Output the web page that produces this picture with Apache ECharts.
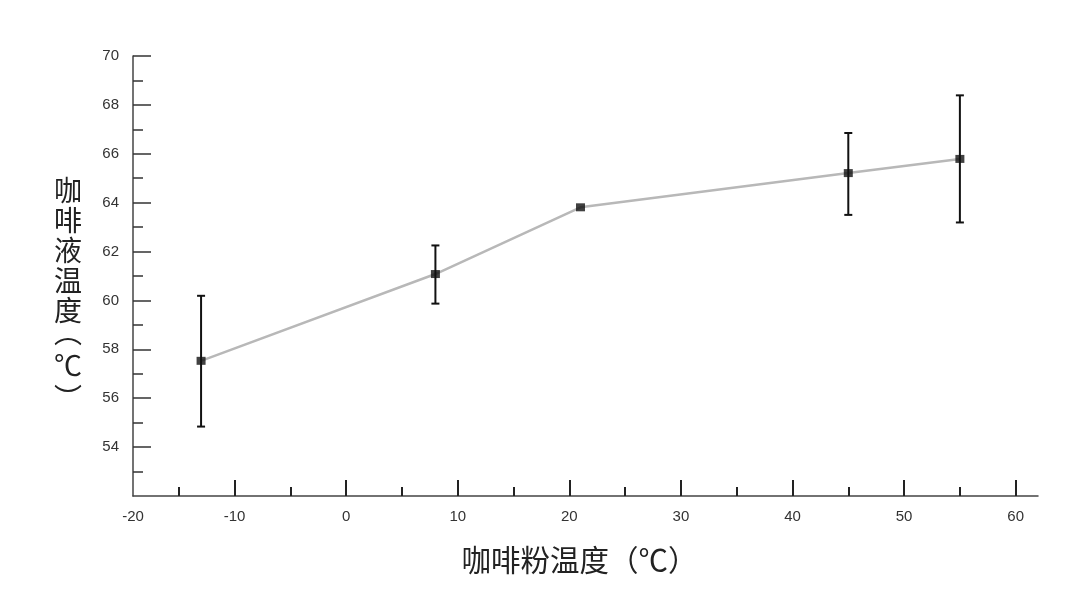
<!DOCTYPE html>
<html><head><meta charset="utf-8">
<script src="https://cdn.jsdelivr.net/npm/echarts@6/dist/echarts.min.js"></script>
<style>html,body{margin:0;padding:0;background:#fff}#c{width:1080px;height:601px}</style>
</head><body><div id="c"></div>
<script>
const xValues = [-13, 8, 21, 45, 55];
const yMeans = [57.53, 61.08, 63.81, 65.21, 65.79];
const yLow = [54.84, 59.87, 63.81, 63.50, 63.19];
const yHigh = [60.19, 62.25, 63.81, 66.85, 68.39];
const xMajorTicks = [-10, 0, 10, 20, 30, 40, 50, 60];
const xMinorTicks = [-15, -5, 5, 15, 25, 35, 45, 55];
const xLabelValues = [-19.1, -10, 0, 10, 20, 30, 40, 50, 60];
const xLabelTexts = ['-20', '-10', '0', '10', '20', '30', '40', '50', '60'];
const yMajorTicks = [54, 56, 58, 60, 62, 64, 66, 68, 70];
const yMinorTicks = [53, 55, 57, 59, 61, 63, 65, 67, 69];
const xName = '咖啡粉温度（℃）';
const yName = '咖\n啡\n液\n温\n度\n{s| }';
const yUnitOpen = '︵', yUnit = '℃', yUnitClose = '︶';

const X_MIN = -19.1, X_MAX = 62, Y_MIN = 52, Y_MAX = 70;
const font = 'Liberation Sans, Arial, sans-serif';
const cjk = '"Noto Sans CJK SC", sans-serif';

const chart = echarts.init(document.getElementById('c'));
const errData = xValues.map((x, i) => [x, yLow[i], yHigh[i]]);
const lineData = xValues.map((x, i) => [x, yMeans[i]]);
const unitStyle = { fontFamily: cjk, fontSize: 28, fill: '#222', align: 'center', verticalAlign: 'middle' };

chart.setOption({
  animation: false,
  backgroundColor: '#fff',
  grid: { left: 133, top: 56, width: 905, height: 440 },
  graphic: [
    { type: 'text', x: 68, y: 332, style: Object.assign({ text: yUnitOpen }, unitStyle) },
    { type: 'text', x: 68, y: 365, style: Object.assign({ text: yUnit }, unitStyle) },
    { type: 'text', x: 68, y: 398, style: Object.assign({ text: yUnitClose }, unitStyle) }
  ],
  xAxis: [{
    type: 'value', min: X_MIN, max: X_MAX, position: 'bottom',
    splitLine: { show: false },
    axisLine: { show: true, onZero: false, lineStyle: { color: '#444', width: 1.5 } },
    axisTick: { show: true, inside: true, length: 16, customValues: xMajorTicks, lineStyle: { color: '#222', width: 2 } },
    axisLabel: {
      customValues: xLabelValues, margin: 13, color: '#333', fontSize: 15, fontFamily: font,
      formatter: v => xLabelTexts[xLabelValues.indexOf(v)]
    },
    name: xName, nameLocation: 'middle', nameGap: 49,
    nameTextStyle: { fontFamily: cjk, fontSize: 29.5, color: '#222', padding: [0, 12, 0, 0] }
  }, {
    type: 'value', min: X_MIN, max: X_MAX, position: 'bottom',
    splitLine: { show: false },
    axisLine: { show: false, onZero: false },
    axisTick: { show: true, inside: true, length: 9, customValues: xMinorTicks, lineStyle: { color: '#222', width: 2 } },
    axisLabel: { show: false }
  }],
  yAxis: [{
    type: 'value', min: Y_MIN, max: Y_MAX, position: 'left',
    splitLine: { show: false },
    axisLine: { show: true, onZero: false, lineStyle: { color: '#444', width: 1.5 } },
    axisTick: { show: true, inside: true, length: 18, customValues: yMajorTicks, lineStyle: { color: '#333', width: 1.5 } },
    axisLabel: { customValues: yMajorTicks, margin: 14, color: '#333', fontSize: 15, fontFamily: font },
    name: yName, nameLocation: 'middle', nameRotate: 0, nameGap: 65,
    nameTextStyle: {
      fontFamily: cjk, fontSize: 28, lineHeight: 30, color: '#222', align: 'center', verticalAlign: 'middle',
      rich: { s: { fontSize: 10, lineHeight: 52 } }
    }
  }, {
    type: 'value', min: Y_MIN, max: Y_MAX, position: 'left',
    splitLine: { show: false },
    axisLine: { show: false, onZero: false },
    axisTick: { show: true, inside: true, length: 10, customValues: yMinorTicks, lineStyle: { color: '#333', width: 1.5 } },
    axisLabel: { show: false }
  }],
  series: [{
    type: 'line', data: lineData, xAxisIndex: 0, yAxisIndex: 0,
    lineStyle: { color: '#b8b8b8', width: 2.5 },
    symbol: 'none', z: 2
  }, {
    type: 'custom', data: errData, xAxisIndex: 0, yAxisIndex: 0, z: 3,
    renderItem: (params, api) => {
      const x = api.value(0);
      const lo = api.coord([x, api.value(1)]);
      const hi = api.coord([x, api.value(2)]);
      if (Math.abs(hi[1] - lo[1]) < 1) return { type: 'group', children: [] };
      const style = { stroke: '#111', lineWidth: 2 };
      const cw = 4;
      return { type: 'group', children: [
        { type: 'line', shape: { x1: lo[0], y1: lo[1], x2: hi[0], y2: hi[1] }, style },
        { type: 'line', shape: { x1: lo[0] - cw, y1: lo[1], x2: lo[0] + cw, y2: lo[1] }, style },
        { type: 'line', shape: { x1: hi[0] - cw, y1: hi[1], x2: hi[0] + cw, y2: hi[1] }, style }
      ]};
    }
  }, {
    type: 'scatter', data: lineData, xAxisIndex: 0, yAxisIndex: 0, z: 4,
    symbol: 'rect', symbolSize: [9, 8],
    itemStyle: { color: '#111' }
  }]
});
</script></body></html>
